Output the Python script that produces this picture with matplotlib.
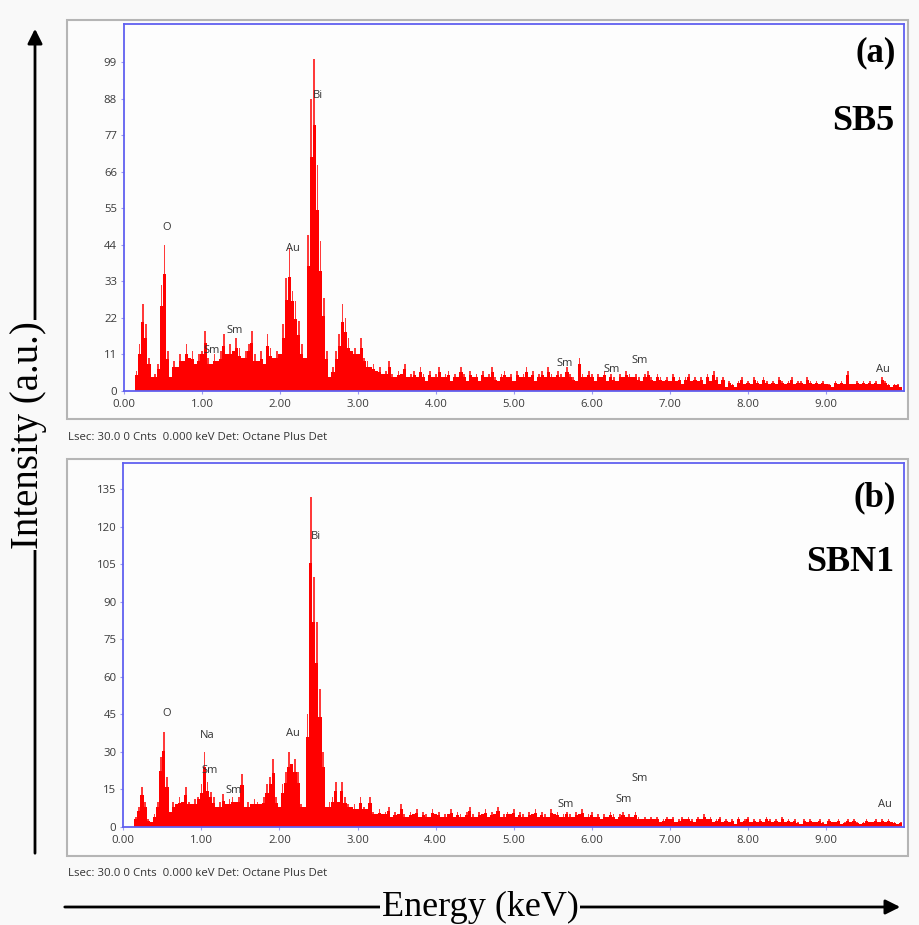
import numpy as np
import matplotlib
matplotlib.use("Agg")
import matplotlib.pyplot as plt
from matplotlib.patches import Rectangle, FancyArrowPatch

# エネルギー軸 (keV): 0.16 keV から 0.04 keV 刻みのチャンネル中心
e_start = 0.16
e_step = 0.04

# SB5 のカウント
counts_sb5 = [
    6, 14, 26, 20, 10, 4, 5, 8, 32, 44,
    12, 4, 9, 7, 11, 9, 14, 10, 12, 8,
    11, 12, 18, 10, 8, 11, 9, 12, 17, 11,
    14, 12, 16, 13, 10, 12, 14, 18, 11, 9,
    12, 8, 17, 13, 10, 12, 11, 20, 34, 43,
    30, 27, 21, 14, 10, 47, 88, 100, 68, 45,
    28, 12, 4, 7, 12, 17, 26, 22, 16, 12,
    13, 11, 16, 10, 9, 7, 8, 6, 7, 5,
    6, 9, 5, 4, 6, 5, 8, 4, 5, 6,
    4, 7, 5, 3, 6, 4, 5, 7, 4, 5,
    6, 3, 5, 4, 7, 5, 3, 6, 4, 5,
    3, 6, 4, 5, 7, 4, 3, 5, 6, 4,
    5, 3, 6, 4, 5, 7, 4, 6, 3, 5,
    6, 4, 7, 5, 4, 6, 5, 4, 7, 5,
    4, 3, 10, 5, 4, 6, 5, 3, 5, 4,
    6, 3, 5, 4, 3, 5, 4, 6, 5, 4,
    5, 4, 3, 5, 6, 4, 3, 5, 4, 3,
    4, 3, 5, 3, 4, 2, 4, 5, 3, 4,
    3, 4, 2, 5, 3, 6, 4, 2, 4, 1,
    3, 2, 1, 3, 4, 2, 3, 2, 4, 3,
    2, 4, 3, 2, 3, 2, 4, 3, 2, 3,
    4, 2, 3, 3, 2, 4, 3, 2, 3, 2,
    3, 2, 2, 1, 3, 2, 3, 2, 6, 2,
    2, 3, 2, 3, 2, 3, 2, 3, 2, 4,
    3, 2, 1, 2, 2, 1,
]

# SBN1 のカウント
counts_sbn1 = [
    4, 8, 16, 10, 3, 2, 5, 10, 28, 38,
    20, 6, 10, 9, 12, 10, 16, 10, 9, 11,
    12, 17, 30, 18, 14, 12, 8, 10, 13, 9,
    11, 12, 10, 12, 21, 8, 10, 9, 11, 10,
    9, 12, 17, 20, 27, 12, 8, 17, 22, 30,
    25, 27, 22, 9, 8, 45, 132, 100, 82, 55,
    30, 8, 10, 12, 18, 10, 18, 12, 9, 8,
    9, 7, 12, 8, 7, 12, 6, 5, 7, 5,
    6, 8, 4, 6, 5, 9, 5, 4, 6, 5,
    7, 4, 6, 5, 4, 7, 5, 6, 4, 5,
    5, 7, 4, 6, 5, 4, 6, 8, 5, 4,
    6, 5, 7, 4, 6, 5, 8, 4, 5, 6,
    5, 7, 4, 6, 5, 4, 6, 5, 7, 4,
    6, 5, 4, 7, 5, 6, 4, 5, 6, 5,
    4, 6, 5, 7, 4, 5, 6, 4, 5, 3,
    5, 4, 6, 5, 3, 5, 6, 4, 5, 4,
    6, 4, 3, 4, 3, 4, 3, 4, 2, 3,
    4, 3, 4, 2, 3, 4, 3, 4, 3, 2,
    4, 3, 5, 3, 4, 2, 3, 4, 2, 3,
    2, 3, 1, 4, 2, 3, 4, 2, 3, 2,
    3, 2, 4, 3, 2, 3, 2, 4, 2, 3,
    2, 3, 2, 1, 3, 2, 3, 2, 2, 3,
    2, 1, 3, 2, 2, 3, 1, 2, 3, 2,
    3, 2, 1, 2, 3, 2, 2, 3, 2, 3,
    2, 3, 2, 2, 1, 2,
]

# ピーク同定ラベル (元素, keV, カウント)
labels_sb5 = [("O", 0.55, 49.3), ("Bi", 2.48, 89.1), ("Au", 2.17, 42.9),
              ("Sm", 1.12, 12.0), ("Sm", 1.42, 18.0), ("Sm", 5.65, 8.3),
              ("Sm", 6.25, 6.3), ("Sm", 6.61, 9.0), ("Au", 9.73, 6.3)]
labels_sbn1 = [("O", 0.55, 45.4), ("Na", 1.07, 36.4), ("Sm", 1.11, 22.3),
               ("Sm", 1.42, 14.4), ("Au", 2.17, 37.4), ("Bi", 2.47, 116.3),
               ("Sm", 5.67, 8.7), ("Sm", 6.41, 10.7), ("Sm", 6.62, 19.4),
               ("Au", 9.75, 8.7)]

yticks_sb5 = [0, 11, 22, 33, 44, 55, 66, 77, 88, 99]
yticks_sbn1 = [0, 15, 30, 45, 60, 75, 90, 105, 120, 135]
xticks = [0, 1, 2, 3, 4, 5, 6, 7, 8, 9]

footer = "Lsec: 30.0 0 Cnts  0.000 keV Det: Octane Plus Det"

W, H = 920, 925
bg = "#f9f9f9"
fig = plt.figure(figsize=(W / 100, H / 100), dpi=100, facecolor=bg)


def px(x0, y0, x1, y1):
    # ピクセル座標 -> figure 座標 [left, bottom, width, height]
    return [x0 / W, 1 - y1 / H, (x1 - x0) / W, (y1 - y0) / H]


def panel(frame, box, counts, ymax, yticks, labels, tag, name, foot_y, ty):
    # 外枠
    fl = px(*frame)
    fig.add_artist(Rectangle((fl[0], fl[1]), fl[2], fl[3],
                             transform=fig.transFigure, facecolor="#fcfcfc",
                             edgecolor="#b5b5b5", lw=1.5, zorder=0))
    ax = fig.add_axes(px(*box))
    ax.set_facecolor("#fdfdfd")
    counts = np.asarray(counts, dtype=float)
    energy = e_start + e_step * np.arange(len(counts))
    # スペクトル本体（隣接チャンネルの最小値）と細いスパイク
    body = np.minimum(counts, np.minimum(np.roll(counts, 1), np.roll(counts, -1)))
    body = np.maximum(body, counts * 0.8)
    ax.bar(energy, counts, width=e_step * 0.55, color="#ff3a3a",
           edgecolor="none", align="center")
    ax.bar(energy, body, width=e_step, color="#ff0000", edgecolor="none",
           align="center")
    ax.set_xlim(0, 10)
    ax.set_ylim(0, ymax)
    ax.set_xticks(xticks)
    ax.set_xticklabels(["%.2f" % t for t in xticks])
    ax.set_yticks(yticks)
    ax.tick_params(length=2, width=0.8, colors="#9a9af0", labelcolor="#3a3a3a",
                   labelsize=8.2)
    ax.tick_params(axis="x", pad=4)
    ax.tick_params(axis="y", pad=3)
    for t in ax.get_xticklabels() + ax.get_yticklabels():
        t.set_family("Open Sans")
    for s in ax.spines.values():
        s.set_color("#6060f0")
        s.set_linewidth(1.3)
    for el, x, y in labels:
        ax.text(x, y, el, ha="center", va="center", fontsize=8,
                color="#333333", family="Open Sans")
    ax.text(0.99, ty[0], tag, transform=ax.transAxes, ha="right", va="center",
            fontsize=25, fontweight="bold", family="Liberation Serif")
    ax.text(0.988, ty[1], name, transform=ax.transAxes, ha="right",
            va="center", fontsize=26, fontweight="bold",
            family="Liberation Serif")
    fig.text(68 / W, 1 - foot_y / H, footer, ha="left", va="center",
             fontsize=8.2, color="#333333", family="Open Sans")
    return ax


panel((67, 20, 908, 419), (124, 24, 904, 390.7), counts_sb5, 110.5,
      yticks_sb5, labels_sb5, "(a)", "SB5", 437, (0.922, 0.733))
panel((67, 459, 908, 856), (123.3, 463.3, 904, 826.7), counts_sbn1, 145.4,
      yticks_sbn1, labels_sbn1, "(b)", "SBN1", 873, (0.905, 0.728))

# 軸タイトル用の矢印
fig.add_artist(FancyArrowPatch((35 / W, 1 - 856 / H), (35 / W, 1 - 26 / H),
                               transform=fig.transFigure, arrowstyle="-|>",
                               mutation_scale=22, lw=2, color="black"))
fig.add_artist(FancyArrowPatch((62 / W, 1 - 907 / H), (903 / W, 1 - 907 / H),
                               transform=fig.transFigure, arrowstyle="-|>",
                               mutation_scale=22, lw=2, color="black"))
fig.text(29 / W, 1 - 435 / H, "Intensity (a.u.)", rotation=90, ha="center",
         va="center", fontsize=28, family="Liberation Serif",
         bbox=dict(facecolor=bg, edgecolor="none", pad=1))
fig.text(480 / W, 1 - 907 / H, "Energy (keV)", ha="center", va="center",
         fontsize=26, family="Liberation Serif",
         bbox=dict(facecolor=bg, edgecolor="none", pad=1))

fig.savefig("out.png", dpi=100, facecolor=bg)
